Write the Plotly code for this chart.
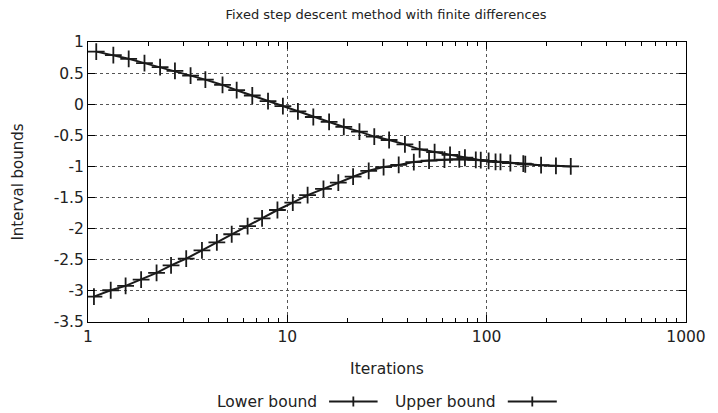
import plotly.graph_objects as go

# Iterations and interval bounds for the fixed step descent run
lower_iter = [1.071, 1.30, 1.544, 1.847, 2.208, 2.61, 3.11, 3.73, 4.43, 5.26,
              6.32, 7.47, 8.92, 10.65, 12.64, 15.18, 18.02, 21.38, 25.6, 30.4,
              36.2, 43.1, 51.4, 61.4, 72.9, 88.2, 102.3, 117.3, 152.7]
lower_bound = [-3.093, -2.99, -2.92, -2.82, -2.71, -2.59, -2.48, -2.35, -2.22, -2.09,
               -1.96, -1.835, -1.70, -1.58, -1.46, -1.36, -1.26, -1.165, -1.07, -1.01,
               -0.975, -0.93, -0.905, -0.89, -0.885, -0.895, -0.91, -0.925, -0.955]

upper_iter = [1.10, 1.34, 1.60, 1.92, 2.30, 2.73, 3.27, 3.88, 4.73, 5.57,
              6.67, 8.00, 9.50, 11.3, 13.5, 16.2, 19.2, 23.0, 27.3, 32.4,
              38.9, 46.1, 54.8, 65.5, 77.8, 93.4, 110.8, 131.5, 156.2, 187.5,
              222.6, 264.2]
upper_bound = [0.845, 0.79, 0.73, 0.66, 0.595, 0.535, 0.46, 0.395, 0.31, 0.225,
               0.14, 0.05, -0.03, -0.115, -0.205, -0.285, -0.365, -0.44, -0.52, -0.575,
               -0.645, -0.725, -0.77, -0.815, -0.86, -0.90, -0.925, -0.945, -0.965, -0.98,
               -0.99, -1.0]

x_ticks = [1, 10, 100, 1000]
x_ticklabels = ["1", "10", "100", "1000"]
y_ticks = [1, 0.5, 0, -0.5, -1, -1.5, -2, -2.5, -3, -3.5]
y_ticklabels = ["1", "0.5", "0", "-0.5", "-1", "-1.5", "-2", "-2.5", "-3", "-3.5"]

series_names = ["Lower bound", "Upper bound"]

W, H = 718, 413
L, R, T, B = 88, 26, 42, 91
FONT = "DejaVu Sans"
FS = 15.5
INK = "#1a1a1a"
TXT = "#222"

fig = go.Figure()
for xs, ys, name in [(lower_iter, lower_bound, series_names[0]),
                     (upper_iter, upper_bound, series_names[1])]:
    fig.add_trace(go.Scatter(
        x=xs, y=ys, name=name, mode="lines+markers",
        line=dict(color=INK, width=2),
        marker=dict(symbol="cross-thin", size=12,
                    line=dict(color=INK, width=1.8)),
        showlegend=False,
    ))

# key below the axes: label followed by a line sample with a cross
pw, ph = W - L - R, H - T - B


def px_x(p):
    return (p - L) / pw


def px_y(p):
    return (H - B - p) / ph


key_y = 401.5
keys = [(series_names[0], 321, 331.5, 380.5), (series_names[1], 502, 512, 561.5)]
shapes = []
annotations = []
for name, text_right, s0, s1 in keys:
    annotations.append(dict(
        text=name, xref="paper", yref="paper", x=px_x(text_right), y=px_y(key_y),
        xanchor="right", yanchor="middle", showarrow=False,
        font=dict(family=FONT, size=FS, color=TXT)))
    shapes.append(dict(type="line", xref="paper", yref="paper",
                       x0=px_x(s0), x1=px_x(s1), y0=px_y(key_y), y1=px_y(key_y),
                       line=dict(color=INK, width=2)))
    cx = (s0 + s1) / 2
    shapes.append(dict(type="line", xref="paper", yref="paper",
                       x0=px_x(cx), x1=px_x(cx), y0=px_y(key_y - 5), y1=px_y(key_y + 5),
                       line=dict(color=INK, width=1.8)))

fig.update_layout(
    width=W, height=H,
    margin=dict(l=L, r=R, t=T, b=B),
    paper_bgcolor="white", plot_bgcolor="white",
    font=dict(family=FONT, size=FS, color=TXT),
    title=dict(text="Fixed step descent method with finite differences",
               x=px_x(389), xref="paper", xanchor="center",
               y=1 - 14 / H, yref="container", yanchor="middle",
               font=dict(family=FONT, size=13, color=TXT)),
    shapes=shapes,
    annotations=annotations,
    showlegend=False,
)

fig.update_xaxes(
    type="log", range=[0, 3],
    tickvals=x_ticks, ticktext=x_ticklabels,
    ticks="inside", ticklen=7, tickwidth=1, tickcolor="black",
    minor=dict(ticks="inside", ticklen=4, tickwidth=1, tickcolor="black",
               dtick="D1", showgrid=False),
    showline=True, linecolor="black", linewidth=1, mirror="allticks",
    showgrid=True, gridcolor="#555", griddash="dot", gridwidth=1,
    zeroline=False,
    tickfont=dict(family=FONT, size=FS, color=TXT),
    title=dict(text="Iterations", standoff=18, font=dict(family=FONT, size=FS)),
)
fig.update_yaxes(
    range=[-3.5, 1],
    tickvals=y_ticks, ticktext=y_ticklabels,
    ticks="inside", ticklen=7, tickwidth=1, tickcolor="black",
    showline=True, linecolor="black", linewidth=1, mirror="allticks",
    showgrid=True, gridcolor="#555", griddash="dot", gridwidth=1,
    zeroline=False,
    tickfont=dict(family=FONT, size=FS, color=TXT),
    title=dict(text="Interval bounds", standoff=26, font=dict(family=FONT, size=15)),
)

fig.write_html("out.html")
